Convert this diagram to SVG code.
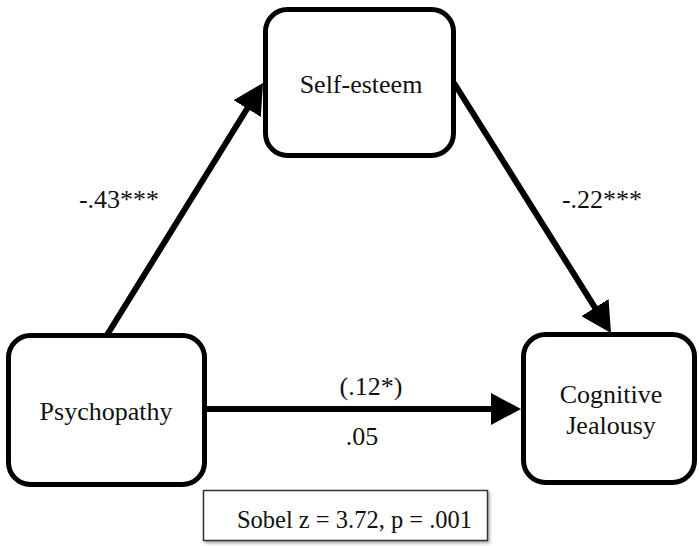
<svg xmlns="http://www.w3.org/2000/svg" width="699" height="546" viewBox="0 0 699 546">
  <defs>
    <marker id="arrow" markerUnits="userSpaceOnUse" markerWidth="32" markerHeight="32" refX="15" refY="16" orient="auto">
      <path d="M0,0 L30,16 L0,32 z" fill="#000"/>
    </marker>
    <filter id="shadow" x="-10%" y="-30%" width="120%" height="160%">
      <feDropShadow dx="1.5" dy="2" stdDeviation="1.5" flood-color="#000" flood-opacity="0.35"/>
    </filter>
  </defs>
  <style>
    .node rect { fill: #fff; stroke: #000; stroke-width: 5; }
    .lbl { font-family: "Liberation Serif", "Times New Roman", serif; font-size: 26px; fill: #111; text-anchor: middle; }
    .conn line { stroke: #000; stroke-width: 6; marker-end: url(#arrow); }
  </style>
  <rect width="699" height="546" fill="#fff"/>

  <g id="connectors" class="conn">
    <line x1="107" y1="335" x2="255.1" y2="95.8"/>
    <line x1="454" y1="83" x2="603" y2="320.3"/>
    <line x1="206" y1="409" x2="506" y2="409"/>
  </g>

  <g id="self-esteem" class="node">
    <rect x="265.5" y="9.5" width="188" height="146" rx="22"/>
    <text class="lbl" x="361" y="93">Self-esteem</text>
  </g>
  <g id="psychopathy" class="node">
    <rect x="8.5" y="335.5" width="196" height="149" rx="22"/>
    <text class="lbl" x="106" y="420">Psychopathy</text>
  </g>
  <g id="cognitive-jealousy" class="node">
    <rect x="523.5" y="334.5" width="171" height="148" rx="22"/>
    <text class="lbl" x="611" y="403">Cognitive</text>
    <text class="lbl" x="611" y="434">Jealousy</text>
  </g>

  <g id="labels">
    <text class="lbl" x="119" y="208">-.43***</text>
    <text class="lbl" x="602" y="208">-.22***</text>
    <text class="lbl" x="371" y="395">(.12*)</text>
    <text class="lbl" x="362" y="445">.05</text>
  </g>

  <g id="sobel">
    <rect x="203.5" y="490.5" width="284" height="50" fill="#fff" stroke="#333" stroke-width="1.5" filter="url(#shadow)"/>
    <text class="lbl" x="354.5" y="528" style="font-size:24.5px">Sobel z = 3.72, p = .001</text>
  </g>
</svg>
